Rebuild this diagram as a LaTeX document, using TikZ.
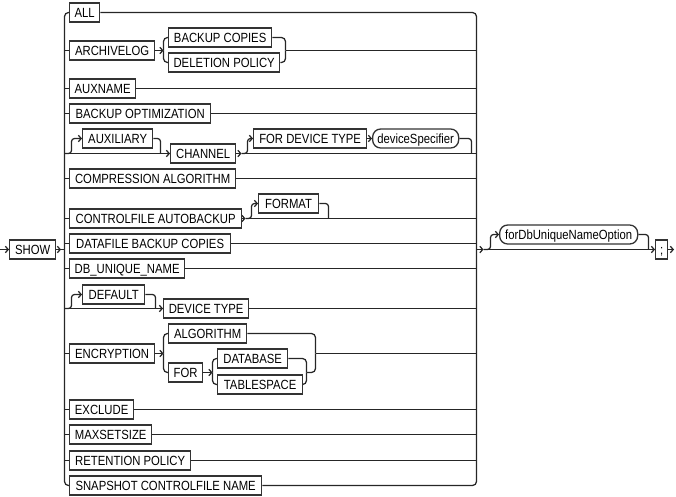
\documentclass[tikz,border=0pt]{standalone}
\usepackage{fontspec}
\setmainfont[FakeStretch=0.85]{Liberation Sans}
\usetikzlibrary{arrows.meta,backgrounds}
\begin{document}
\begin{tikzpicture}[x=1pt,y=-1pt,
  kw/.style={draw=black!80, line width=1.3pt, fill=white, rectangle, anchor=west,
    minimum height=19pt, inner xsep=2pt, inner ysep=0pt,
    text height=9.5pt, text depth=0pt, font=\fontsize{13.3}{15}\selectfont},
  nt/.style={kw, rounded corners=8pt},
  wire/.style={line width=1.25pt, draw=black!85},
  arr/.style={-{Straight Barb[length=2.8pt,width=6.5pt]}},
  rc/.style={rounded corners=4pt},
  rs/.style={rounded corners=3pt}]
\useasboundingbox (0,0) rectangle (676,496);

% nodes
\node[kw, minimum width=46pt] (show) at (9,249.5) {SHOW};
\node[kw, minimum width=30pt] (all) at (69,12.5) {ALL};
\node[kw, minimum width=85pt] (arch) at (69,50.5) {ARCHIVELOG};
\node[kw, minimum width=103pt] (bc) at (168,37.5) {BACKUP COPIES};
\node[kw, minimum width=111pt] (dp) at (168,62.5) {DELETION POLICY};
\node[kw, minimum width=66pt] (auxname) at (69,88.5) {AUXNAME};
\node[kw, minimum width=141pt] (bo) at (69,113.5) {BACKUP OPTIMIZATION};
\node[kw, minimum width=70pt] (aux) at (82,138.5) {AUXILIARY};
\node[kw, minimum width=65pt] (ch) at (170,153.5) {CHANNEL};
\node[kw, minimum width=113pt] (fdt) at (253,138.5) {FOR DEVICE TYPE};
\node[nt, minimum width=86pt] (ds) at (372,138.5) {deviceSpecifier};
\node[kw, minimum width=166pt] (comp) at (69,178.5) {COMPRESSION ALGORITHM};
\node[kw, minimum width=172pt] (cf) at (69,218.5) {CONTROLFILE AUTOBACKUP};
\node[kw, minimum width=60pt] (fmt) at (258,203.5) {FORMAT};
\node[kw, minimum width=161pt] (data) at (69,243.5) {DATAFILE BACKUP COPIES};
\node[kw, minimum width=115pt] (dbu) at (69,268.5) {DB\_UNIQUE\_NAME};
\node[kw, minimum width=62pt] (def) at (82,294.5) {DEFAULT};
\node[kw, minimum width=85pt] (dt) at (163,308.5) {DEVICE TYPE};
\node[kw, minimum width=85pt] (enc) at (69,353.5) {ENCRYPTION};
\node[kw, minimum width=78pt] (alg) at (168,333.5) {ALGORITHM};
\node[kw, minimum width=34pt] (for) at (168,372.5) {FOR};
\node[kw, minimum width=70pt] (db) at (217,358.5) {DATABASE};
\node[kw, minimum width=85pt] (ts) at (217,384.5) {TABLESPACE};
\node[kw, minimum width=64pt] (excl) at (69,409.5) {EXCLUDE};
\node[kw, minimum width=82pt] (max) at (69,434.5) {MAXSETSIZE};
\node[kw, minimum width=121pt] (ret) at (69,460.5) {RETENTION POLICY};
\node[kw, minimum width=192pt] (snap) at (69,485.5) {SNAPSHOT CONTROLFILE NAME};
\node[nt, minimum width=138pt] (fdb) at (499,234.5) {forDbUniqueNameOption};
\node[kw, minimum width=12pt] (semi) at (655,249.5) {;};

% coordinates
\coordinate (start) at (0,249.5);
\coordinate (sa) at (61,249.5);
\coordinate (lr) at (64.5,249.5);
\coordinate (rr) at (476.5,249.5);

\begin{scope}[on background layer, every path/.style={wire}]
% entry
\draw[arr] (start) -- (show.west);
\draw[arr] (show.east) -- (sa);
\draw (sa) -- (lr);

% rails
\draw[rc] (all.west) -| (lr) |- (snap.west);
\draw[rc] (all.east) -| (rr) |- (snap.east);

% simple rows
\foreach \n in {arch,auxname,bo,comp,cf,data,dbu,enc,excl,max,ret}
  \draw (lr |- \n.west) -- (\n.west);
\foreach \n in {auxname,bo,comp,data,dbu,excl,max,ret,dt}
  \draw (\n.east) -- (rr |- \n.east);

% ARCHIVELOG
\coordinate (as) at (163.5,50.5);
\coordinate (aj) at (285.5,50.5);
\draw[arr] (arch.east) -- (as);
\draw[rc] (as) |- (bc.west);
\draw[rc] (as) |- (dp.west);
\draw[rc] (bc.east) -| (aj);
\draw[rc] (dp.east) -| (aj);
\draw (aj) -- (rr |- aj);

% AUXILIARY / CHANNEL
\coordinate (xu) at (71.5,138.5);
\coordinate (xd) at (160.5,153.5);
\draw[arr] (lr |- ch.west) -- (ch.west);
\draw[arr,rs] (lr |- ch.west) -| (xu) -- (aux.west);
\draw[rs] (aux.east) -| (xd);
\coordinate (cs) at (241.5,153.5);
\coordinate (cu) at (247.5,138.5);
\coordinate (dj) at (471.5,153.5);
\draw[arr] (ch.east) -- (cs);
\draw (cs) -- (rr |- cs);
\draw[arr,rs] (cs) -| (cu) -- (fdt.west);
\draw[arr] (fdt.east) -- (ds.west);
\draw[rs] (ds.east) -| (dj);

% CONTROLFILE AUTOBACKUP
\coordinate (fs) at (245.5,218.5);
\coordinate (fu) at (251.5,203.5);
\coordinate (fj) at (328.5,218.5);
\draw[arr] (cf.east) -- (fs);
\draw (fs) -- (rr |- fs);
\draw[arr,rs] (fs) -| (fu) -- (fmt.west);
\draw[rs] (fmt.east) -| (fj);

% DEFAULT / DEVICE TYPE
\coordinate (du) at (71.5,294.5);
\coordinate (dd) at (155.5,308.5);
\draw[arr] (lr |- dt.west) -- (dt.west);
\draw[arr,rs] (lr |- dt.west) -| (du) -- (def.west);
\draw[rs] (def.east) -| (dd);

% ENCRYPTION
\coordinate (es) at (163.5,353.5);
\coordinate (fs2) at (212.5,372.5);
\coordinate (ij) at (306.5,372.5);
\coordinate (oj) at (315.5,353.5);
\draw[arr] (enc.east) -- (es);
\draw[rc] (es) |- (alg.west);
\draw[rc] (es) |- (for.west);
\draw[arr] (for.east) -- (fs2);
\draw[rc] (fs2) |- (db.west);
\draw[rc] (fs2) |- (ts.west);
\draw[rc] (db.east) -| (ij);
\draw[rc] (ts.east) -| (ij);
\draw[rc] (ij) -| (oj);
\draw[rc] (alg.east) -| (oj);
\draw (oj) -- (rr |- oj);

% exit
\coordinate (fa) at (483.5,249.5);
\coordinate (fu2) at (490.5,234.5);
\coordinate (fj2) at (648.5,249.5);
\coordinate (end) at (674,249.5);
\draw[arr] (rr) -- (fa);
\draw[arr] (fa) -- (semi.west);
\draw[arr,rs] (fa) -| (fu2) -- (fdb.west);
\draw[rs] (fdb.east) -| (fj2);
\draw[arr] (semi.east) -- (end);
\end{scope}
\end{tikzpicture}
\end{document}
